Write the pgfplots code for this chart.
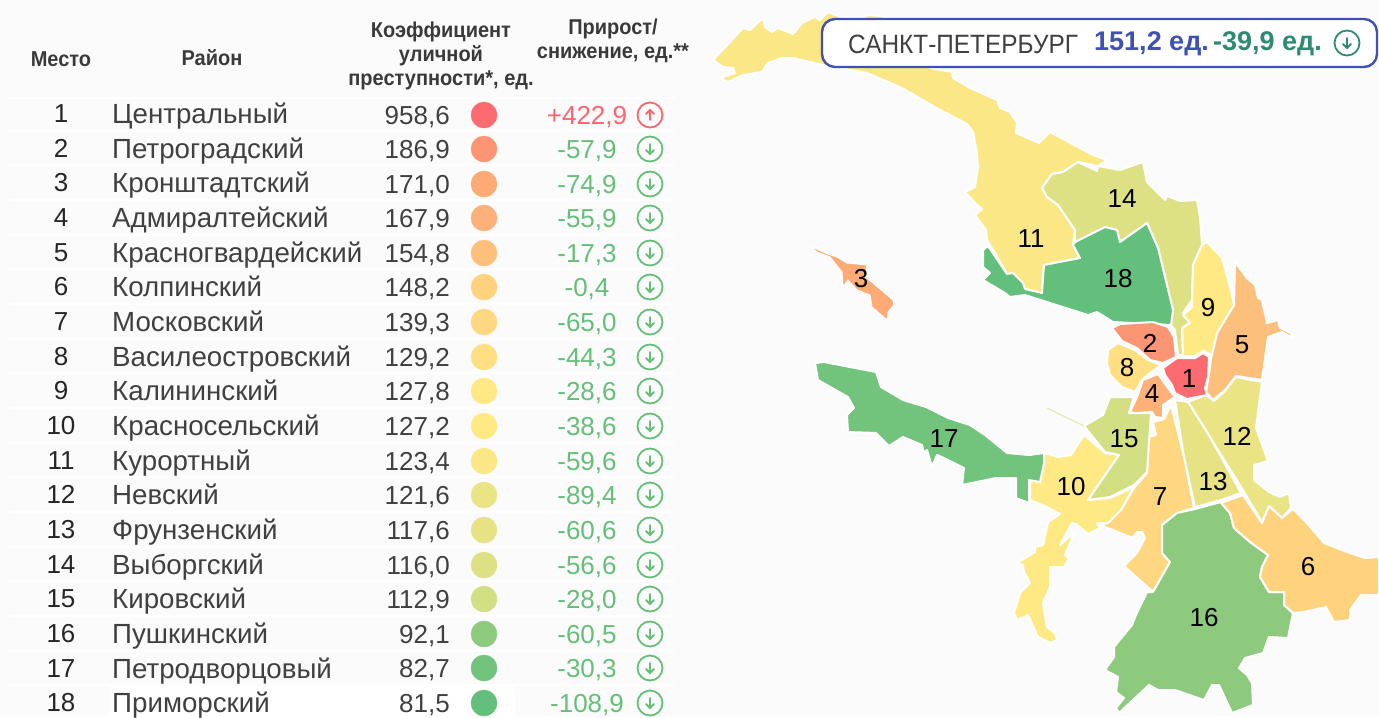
\documentclass[border=0pt]{standalone}
\usepackage{fontspec}
\setmainfont{Liberation Sans}
\newfontfamily\headfont[FakeStretch=0.93]{Liberation Sans}
\newfontfamily\cityfont[FakeStretch=0.92]{Liberation Sans}
\usepackage{pgfplots}
\usepackage{pgfplotstable}
\pgfplotsset{compat=1.18}

\definecolor{bg}{HTML}{FBFBFB}
\definecolor{c1}{HTML}{FB6B70}
\definecolor{c2}{HTML}{FC9574}
\definecolor{c3}{HTML}{FDAA75}
\definecolor{c4}{HTML}{FDB077}
\definecolor{c5}{HTML}{FDC07C}
\definecolor{c6}{HTML}{FFD27E}
\definecolor{c7}{HTML}{FFD781}
\definecolor{c8}{HTML}{FFDF82}
\definecolor{c9}{HTML}{FFE985}
\definecolor{c10}{HTML}{FEE985}
\definecolor{c11}{HTML}{FBE785}
\definecolor{c12}{HTML}{EBE484}
\definecolor{c13}{HTML}{E7E384}
\definecolor{c14}{HTML}{DDE184}
\definecolor{c15}{HTML}{D3DF83}
\definecolor{c16}{HTML}{8DCA7D}
\definecolor{c17}{HTML}{72C37C}
\definecolor{c18}{HTML}{63BF7C}
\definecolor{txt}{HTML}{404040}
\definecolor{upred}{HTML}{F9666E}
\definecolor{downgreen}{HTML}{66BF78}
\definecolor{totblue}{HTML}{3F51B5}
\definecolor{totgreen}{HTML}{2E8B72}

\pgfdeclareplotmark{icondown}{%
  \pgfsetlinewidth{1.8pt}\pgfsetroundcap
  \pgfpathcircle{\pgfpointorigin}{12.5pt}\pgfusepathqstroke
  \pgfpathmoveto{\pgfpoint{0pt}{5pt}}\pgfpathlineto{\pgfpoint{0pt}{-5pt}}
  \pgfpathmoveto{\pgfpoint{-4pt}{-1pt}}\pgfpathlineto{\pgfpoint{0pt}{-5pt}}\pgfpathlineto{\pgfpoint{4pt}{-1pt}}
  \pgfusepathqstroke}
\pgfdeclareplotmark{iconup}{%
  \pgfsetlinewidth{1.8pt}\pgfsetroundcap
  \pgfpathcircle{\pgfpointorigin}{12.5pt}\pgfusepathqstroke
  \pgfpathmoveto{\pgfpoint{0pt}{-5pt}}\pgfpathlineto{\pgfpoint{0pt}{5pt}}
  \pgfpathmoveto{\pgfpoint{-4pt}{1pt}}\pgfpathlineto{\pgfpoint{0pt}{5pt}}\pgfpathlineto{\pgfpoint{4pt}{1pt}}
  \pgfusepathqstroke}

\pgfplotstableread{
rank yn yv name val delta
1 113 115 Центральный 958,6 +422,9
2 148 149 Петроградский 186,9 -57,9
3 182 184 Кронштадтский 171,0 -74,9
4 217 218 Адмиралтейский 167,9 -55,9
5 252 253 Красногвардейский 154,8 -17,3
6 286 287 Колпинский 148,2 -0,4
7 321 322 Московский 139,3 -65,0
8 356 357 Василеостровский 129,2 -44,3
9 390 391 Калининский 127,8 -28,6
10 425 426 Красносельский 127,2 -38,6
11 460 461 Курортный 123,4 -59,6
12 494 495 Невский 121,6 -89,4
13 529 530 Фрунзенский 117,6 -60,6
14 564 565 Выборгский 116,0 -56,6
15 598 599 Кировский 112,9 -28,0
16 633 634 Пушкинский 92,1 -60,5
17 668 668 Петродворцовый 82,7 -30,3
18 702 703 Приморский 81,5 -108,9
}\rows

\pgfplotstableread{
x y lab
1189 379 1
1150 343 2
861 279 3
1152 394 4
1242 345 5
1308 567 6
1160 497 7
1127 368 8
1208 308 9
1071 487 10
1031 239 11
1237 436 12
1213 482 13
1122 199 14
1124 439 15
1204 618 16
944 439 17
1118 279 18
}\maplabels

\newcommand{\fs}[1]{\fontsize{#1}{#1}\selectfont}

\begin{document}
\begin{tikzpicture}
\begin{axis}[
    scale only axis,
    width=1379pt, height=716pt,
    xmin=0, xmax=1379, ymin=0, ymax=716,
    y dir=reverse,
    axis lines=none,
    axis background/.style={fill=bg},
    district/.style={draw=white, line width=2pt, line join=round},
    celltext/.style={only marks, mark=none, point meta=explicit symbolic, nodes near coords,
        nodes near coords style={anchor=center, inner sep=0pt, text=txt, font=\fs{26}}},
]
% row separators
\pgfplotsinvokeforeach{98,131,165,200,235,269,304,339,373,408,443,477,512,547,581,616,651,685}{
  \addplot[white, line width=2.5pt] coordinates {(10,#1) (675,#1)};
}
\addplot[draw=none, fill=white] coordinates {(110,686) (515,686) (515,716) (110,716)} --cycle;

% map
\addplot[district, fill=c11] coordinates {(713,60) (743,28) (750,30) (763,18) (765,27) (772,32) (778,28) (793,34) (802,23) (815,17) (820,20) (828,12) (840,17) (865,17) (867,15) (882,16) (925,40) (930,68) (952,72) (953,78) (970,88) (997,100) (1000,108) (1010,112) (1017,123) (1016,133) (1039,143) (1050,132) (1093,155) (1107,160) (1098,166) (1078,162) (1063,172) (1052,174) (1042,188) (1047,197) (1058,205) (1075,230) (1073,245) (1080,258) (1044,265) (1042,293) (1025,289) (1023,283) (1013,273) (1007,274) (990,245) (987,240) (986,230) (975,215) (982,209) (975,203) (965,192) (975,187) (978,167) (977,153) (973,132) (967,124) (933,106) (902,88) (867,73) (823,65) (793,58) (782,58) (768,63) (762,72) (743,75) (728,82) (720,78) (735,73) (733,68) (723,67)} --cycle;
\addplot[district, fill=c14] coordinates {(1042,188) (1052,174) (1063,172) (1078,162) (1097,171) (1098,166) (1120,170) (1143,162) (1147,182) (1165,200) (1167,196) (1180,201) (1197,200) (1200,217) (1202,245) (1193,265) (1192,300) (1183,313) (1190,323) (1182,328) (1183,355) (1178,355) (1175,330) (1171,325) (1173,310) (1158,248) (1147,223) (1120,242) (1117,230) (1105,227) (1075,242) (1075,230) (1058,205) (1047,197)} --cycle;
\addplot[district, fill=c18] coordinates {(1075,242) (1105,227) (1117,230) (1120,242) (1147,223) (1158,248) (1173,310) (1171,325) (1113,322) (1097,312) (1088,315) (1050,303) (1025,295) (1010,297) (1005,293) (983,280) (990,273) (983,267) (983,250) (988,246) (1007,274) (1013,273) (1023,283) (1025,289) (1042,293) (1044,265) (1080,258) (1073,245)} --cycle;
\addplot[draw=white, line width=1pt, fill=c3] coordinates {(810,246) (828,254) (837,257) (847,263) (867,265) (865,277) (873,283) (893,300) (894,305) (888,312) (887,320) (872,307) (870,295) (857,290) (848,280) (843,287) (842,272) (830,257) (817,252)} --cycle;
\addplot[district, fill=c5] coordinates {(1235,262) (1247,278) (1255,285) (1258,298) (1262,300) (1267,323) (1278,320) (1280,328) (1291,333) (1293,338) (1282,332) (1268,337) (1262,380) (1236,376) (1225,390) (1213,400) (1206,392) (1208,380) (1212,353) (1217,333) (1234,305)} --cycle;
\addplot[district, fill=c9] coordinates {(1207,242) (1222,258) (1231,290) (1234,305) (1217,333) (1212,355) (1203,351) (1195,356) (1183,356) (1182,328) (1190,323) (1183,315) (1192,307) (1193,265) (1202,245)} --cycle;
\addplot[district, fill=c12] coordinates {(1262,382) (1236,377) (1225,391) (1214,401) (1206,395) (1188,402) (1210,437) (1241,487) (1262,522) (1269,506) (1282,518) (1291,508) (1289,493) (1280,497) (1269,492) (1254,480) (1254,465) (1268,461) (1256,428)} --cycle;
\addplot[district, fill=c13] coordinates {(1175,400) (1188,402) (1210,437) (1241,493) (1221,500) (1195,507) (1184,457)} --cycle;
\addplot[district, fill=c7] coordinates {(1153,422) (1164,419) (1171,405) (1184,457) (1194,508) (1177,513) (1162,525) (1162,553) (1170,562) (1153,592) (1124,566) (1137,553) (1145,538) (1142,532) (1137,532) (1133,538) (1100,525) (1108,523) (1121,510) (1134,488) (1147,473) (1149,437) (1156,435)} --cycle;
\addplot[district, fill=c10] coordinates {(1044,453) (1058,457) (1071,455) (1084,435) (1105,453) (1119,455) (1088,500) (1110,498) (1134,487) (1121,510) (1108,523) (1097,523) (1100,528) (1088,534) (1076,524) (1072,523) (1060,545) (1075,532) (1065,555) (1069,558) (1064,567) (1050,567) (1050,587) (1043,603) (1047,627) (1055,633) (1057,640) (1050,643) (1038,637) (1028,615) (1017,620) (1014,613) (1020,593) (1030,583) (1024,572) (1023,565) (1017,563) (1035,552) (1035,547) (1043,545) (1048,522) (1060,514) (1047,507) (1030,500) (1030,480) (1040,482) (1044,463)} --cycle;
\addplot[district, fill=c15] coordinates {(1110,397) (1134,397) (1129,413) (1151,413) (1147,472) (1134,485) (1110,497) (1088,500) (1119,455) (1105,452) (1084,426) (1103,415)} --cycle;
\addplot[c15!70!white, line width=1pt] coordinates {(1047,408) (1084,426)};
\addplot[district, fill=c17] coordinates {(815,363) (824,362) (855,368) (876,372) (881,387) (903,400) (926,407) (948,418) (970,425) (985,435) (1007,453) (1029,455) (1044,453) (1044,463) (1040,482) (1029,480) (1029,503) (1016,498) (1016,478) (996,478) (962,485) (964,468) (944,458) (937,455) (932,467) (927,450) (924,453) (922,445) (903,437) (889,446) (876,433) (848,432) (847,415) (854,408) (848,397) (818,380)} --cycle;
\addplot[district, fill=c16] coordinates {(1195,509) (1221,502) (1230,513) (1234,528) (1250,542) (1268,555) (1262,567) (1260,577) (1269,592) (1284,592) (1284,605) (1293,613) (1288,638) (1269,637) (1263,653) (1245,658) (1239,668) (1247,675) (1252,683) (1253,705) (1232,713) (1219,685) (1212,685) (1204,700) (1175,690) (1158,690) (1149,685) (1119,713) (1116,708) (1124,698) (1116,692) (1118,677) (1105,670) (1114,657) (1114,647) (1132,625) (1136,615) (1147,592) (1153,592) (1170,562) (1162,553) (1162,525) (1177,513)} --cycle;
\addplot[district, fill=c6] coordinates {(1221,503) (1243,495) (1262,523) (1269,506) (1282,518) (1293,509) (1306,522) (1324,543) (1347,552) (1365,558) (1379,557) (1379,595) (1361,595) (1350,610) (1350,620) (1334,622) (1326,607) (1304,612) (1293,613) (1284,605) (1284,592) (1269,592) (1260,577) (1262,567) (1268,555) (1250,542) (1234,528) (1230,513)} --cycle;
\addplot[district, fill=c2] coordinates {(1112,328) (1120,324) (1137,323) (1153,322) (1168,327) (1174,337) (1176,357) (1163,363) (1150,360) (1137,348) (1122,341)} --cycle;
\addplot[district, fill=c8] coordinates {(1108,350) (1118,343) (1135,350) (1148,360) (1161,365) (1150,373) (1142,380) (1135,392) (1122,387) (1110,375) (1107,363)} --cycle;
\addplot[district, fill=c4] coordinates {(1143,380) (1158,374) (1168,388) (1175,397) (1163,405) (1163,418) (1155,417) (1152,412) (1135,413) (1130,412) (1137,397)} --cycle;
\addplot[district, fill=c1] coordinates {(1163,368) (1177,358) (1195,358) (1203,353) (1209,357) (1208,377) (1205,388) (1207,395) (1187,399) (1175,393) (1172,385) (1165,375)} --cycle;

% district numbers on the map
\addplot[celltext, nodes near coords style={text=black, font=\fs{26}}] table[x=x, y=y, meta=lab] {\maplabels};

% table columns
\addplot[celltext, nodes near coords style={anchor=base, yshift=-9.5pt, text=black!85}] table[x expr=61, y=yn, meta=rank] {\rows};
\addplot[celltext, nodes near coords style={anchor=base west, yshift=-10pt, font=\fs{27.7}}] table[x expr=112, y=yn, meta=name] {\rows};
\addplot[celltext, nodes near coords style={anchor=base east, yshift=-9.5pt}] table[x expr=450, y=yv, meta=val] {\rows};
\addplot[celltext, nodes near coords style={anchor=base, yshift=-9.5pt, text=downgreen}] table[x expr=587, y=yv, meta=delta, skip coords between index={0}{1}] {\rows};
\addplot[celltext, nodes near coords style={anchor=base, yshift=-9.5pt, text=upred}] table[x expr=587, y=yv, meta=delta, skip coords between index={1}{18}] {\rows};

% coloured dots
\addplot[only marks, mark=*, mark size=13pt, c1] coordinates {(484,115)};
\addplot[only marks, mark=*, mark size=13pt, c2] coordinates {(484,149)};
\addplot[only marks, mark=*, mark size=13pt, c3] coordinates {(484,184)};
\addplot[only marks, mark=*, mark size=13pt, c4] coordinates {(484,218)};
\addplot[only marks, mark=*, mark size=13pt, c5] coordinates {(484,253)};
\addplot[only marks, mark=*, mark size=13pt, c6] coordinates {(484,287)};
\addplot[only marks, mark=*, mark size=13pt, c7] coordinates {(484,322)};
\addplot[only marks, mark=*, mark size=13pt, c8] coordinates {(484,357)};
\addplot[only marks, mark=*, mark size=13pt, c9] coordinates {(484,391)};
\addplot[only marks, mark=*, mark size=13pt, c10] coordinates {(484,426)};
\addplot[only marks, mark=*, mark size=13pt, c11] coordinates {(484,461)};
\addplot[only marks, mark=*, mark size=13pt, c12] coordinates {(484,495)};
\addplot[only marks, mark=*, mark size=13pt, c13] coordinates {(484,530)};
\addplot[only marks, mark=*, mark size=13pt, c14] coordinates {(484,565)};
\addplot[only marks, mark=*, mark size=13pt, c15] coordinates {(484,599)};
\addplot[only marks, mark=*, mark size=13pt, c16] coordinates {(484,634)};
\addplot[only marks, mark=*, mark size=13pt, c17] coordinates {(484,668)};
\addplot[only marks, mark=*, mark size=13pt, c18] coordinates {(484,703)};

% up/down icons
\addplot[only marks, mark=iconup, upred] coordinates {(650,115)};
\addplot[only marks, mark=icondown, downgreen] table[x expr=650, y=yv, skip coords between index={0}{1}] {\rows};

% headers
\node[font=\headfont\bfseries\fs{21.5}, text=txt!90!black] at (axis cs:61,59) {Место};
\node[font=\headfont\bfseries\fs{21.5}, text=txt!90!black] at (axis cs:212,58) {Район};
\node[font=\headfont\bfseries\fs{21.5}, text=txt!90!black] at (axis cs:441,32) {Коэффициент};
\node[font=\headfont\bfseries\fs{21.5}, text=txt!90!black] at (axis cs:441,56) {уличной};
\node[font=\headfont\bfseries\fs{21.5}, text=txt!90!black] at (axis cs:441,80) {преступности*, ед.};
\node[font=\headfont\bfseries\fs{21.5}, text=txt!90!black] at (axis cs:613,29) {Прирост/};
\node[font=\headfont\bfseries\fs{21.5}, text=txt!90!black] at (axis cs:613,53) {снижение, ед.**};

% city total box
\draw[totblue, line width=2.4pt, fill=white, rounded corners=13pt] (axis cs:822,19) rectangle (axis cs:1377,67);
\node[anchor=west, inner sep=0pt, font=\cityfont\fs{26.5}, text=txt] at (axis cs:848,44) {САНКТ-ПЕТЕРБУРГ};
\node[anchor=west, inner sep=0pt, font=\bfseries\fs{27}, text=totblue] at (axis cs:1094,44) {151,2 ед.};
\node[anchor=west, inner sep=0pt, font=\bfseries\fs{27}, text=totgreen] at (axis cs:1213,44) {-39,9 ед.};
\addplot[only marks, mark=icondown, totgreen] coordinates {(1347,43)};
\end{axis}
\end{tikzpicture}
\end{document}
